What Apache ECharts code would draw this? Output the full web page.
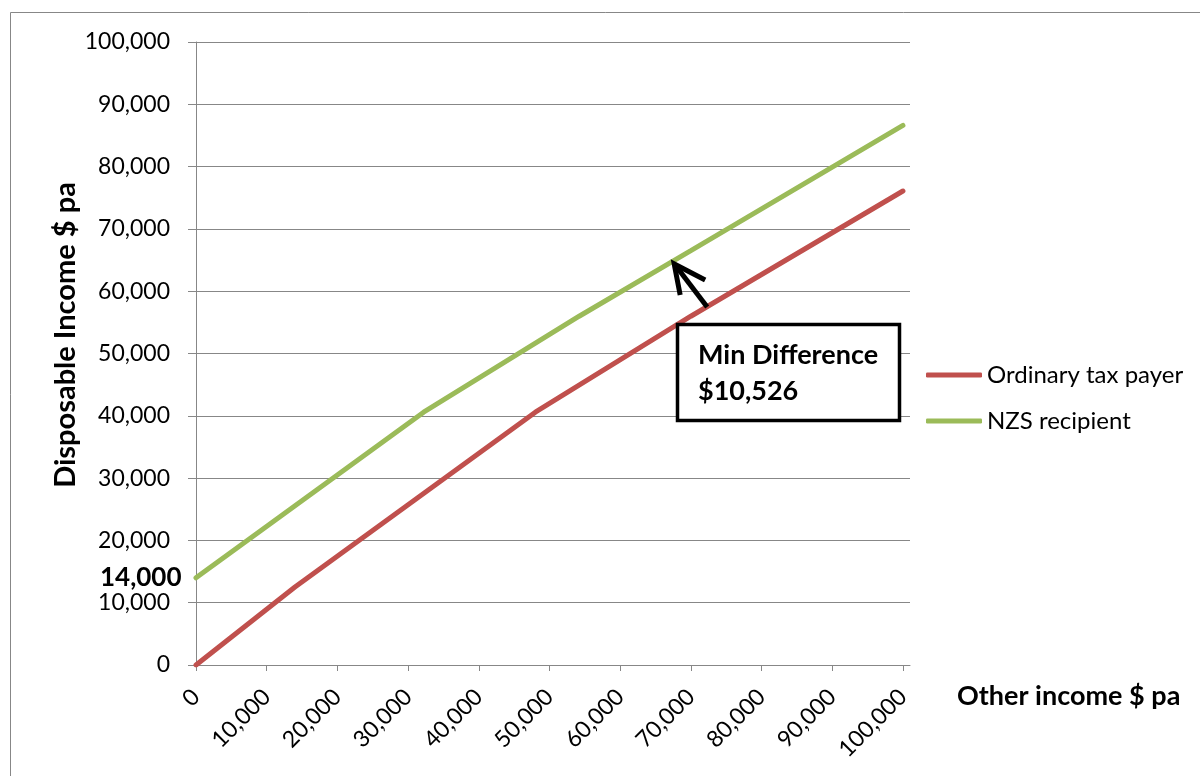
<!DOCTYPE html>
<html>
<head>
<meta charset="utf-8">
<script src="https://cdn.jsdelivr.net/npm/echarts@6/dist/echarts.min.js"></script>
<style>
  html, body { margin: 0; padding: 0; background: #fff; }
  #chart { width: 1200px; height: 776px; }
</style>
</head>
<body>
<div id="chart"></div>
<script>
// Disposable income by other income, two household types
const seriesNames = ['Ordinary tax payer', 'NZS recipient'];
// [other income, disposable income] break points of each schedule
const ordinaryTaxPayer = [[0, 0], [14000, 12530], [48000, 40580], [70000, 55980], [100000, 76080]];
const nzsRecipient = [[0, 14000], [32200, 40580], [54200, 55980], [70000, 66506], [100000, 86606]];
const xTickValues = [0, 10000, 20000, 30000, 40000, 50000, 60000, 70000, 80000, 90000, 100000];
const nzsBase = 14000;
const minDifference = 10526;
const minDiffPoint = [67500, 64700];

const FONT = 'Lato, "Open Sans", sans-serif';
const GRAY = '#878787';
const fmt = v => Number(v).toLocaleString('en-US');

const chart = echarts.init(document.getElementById('chart'), null, { renderer: 'canvas' });

chart.setOption({
  animation: false,
  backgroundColor: '#ffffff',
  textStyle: { fontFamily: FONT },
  grid: { left: 196, right: 290, top: 42, bottom: 111, containLabel: false },
  legend: {
    orient: 'vertical',
    left: 926,
    top: 362,
    padding: 0,
    itemWidth: 56,
    itemHeight: 5,
    itemGap: 20,
    icon: 'roundRect',
    data: seriesNames,
    textStyle: { fontSize: 24, color: '#000', fontFamily: FONT, lineHeight: 26 }
  },
  xAxis: {
    type: 'value',
    min: 0,
    max: 101000,
    interval: 10000,
    axisLine: { show: true, lineStyle: { color: GRAY, width: 1 } },
    axisTick: { show: true, length: 6, lineStyle: { color: GRAY }, customValues: xTickValues },
    splitLine: { show: false },
    axisLabel: {
      customValues: xTickValues,
      rotate: 45,
      margin: 28,
      fontSize: 23,
      color: '#000',
      fontFamily: FONT,
      formatter: v => fmt(v)
    }
  },
  yAxis: {
    type: 'value',
    min: 0,
    max: 100000,
    interval: 10000,
    axisLine: { show: true, lineStyle: { color: GRAY, width: 1 } },
    axisTick: { show: true, length: 8, inside: false, lineStyle: { color: GRAY } },
    splitLine: { show: true, lineStyle: { color: GRAY, width: 1 } },
    axisLabel: {
      margin: 26,
      fontSize: 23,
      color: '#000',
      fontFamily: FONT,
      formatter: v => fmt(v)
    }
  },
  series: [
    {
      name: seriesNames[0],
      type: 'line',
      data: ordinaryTaxPayer,
      symbol: 'none',
      color: '#C0504D',
      lineStyle: { width: 5, color: '#C0504D', cap: 'round' },
      z: 3
    },
    {
      name: seriesNames[1],
      type: 'line',
      data: nzsRecipient,
      symbol: 'none',
      color: '#9BBB59',
      lineStyle: { width: 5, color: '#9BBB59', cap: 'round' },
      z: 3,
      markPoint: {
        symbol: 'circle',
        symbolSize: 1,
        itemStyle: { color: 'transparent' },
        data: [{ coord: [0, nzsBase], value: nzsBase }],
        label: {
          show: true,
          position: 'left',
          distance: 14,
          formatter: p => fmt(p.value),
          fontSize: 26,
          fontWeight: 'bold',
          color: '#000',
          fontFamily: FONT
        }
      }
    }
  ]
});

// Titles, outer frame and the minimum-difference callout
const tip = chart.convertToPixel({ gridIndex: 0 }, minDiffPoint);
chart.setOption({
  graphic: [
    {
      type: 'rect',
      silent: true,
      shape: { x: 10.5, y: 12.5, width: 1300, height: 900 },
      style: { fill: 'none', stroke: GRAY, lineWidth: 1 },
      z: 0
    },
    {
      type: 'text',
      x: 66,
      y: 335,
      rotation: Math.PI / 2,
      style: {
        text: 'Disposable Income $ pa',
        font: 'bold 29px ' + FONT,
        fill: '#000',
        align: 'center',
        verticalAlign: 'middle'
      },
      z: 10
    },
    {
      type: 'text',
      x: 957,
      y: 696,
      style: {
        text: 'Other income $ pa',
        font: 'bold 27px ' + FONT,
        fill: '#000',
        align: 'left',
        verticalAlign: 'middle'
      },
      z: 10
    },
    {
      type: 'group',
      z: 20,
      children: [
        {
          type: 'rect',
          shape: { x: 677.5, y: 324.5, width: 222, height: 96 },
          style: { fill: '#fff', stroke: '#000', lineWidth: 3.5 },
          z: 20
        },
        {
          type: 'text',
          x: 698,
          y: 355,
          style: {
            text: 'Min Difference',
            font: 'bold 27px ' + FONT,
            fill: '#000',
            verticalAlign: 'middle'
          },
          z: 21
        },
        {
          type: 'text',
          x: 698,
          y: 391,
          style: {
            text: '$' + fmt(minDifference),
            font: 'bold 27px ' + FONT,
            fill: '#000',
            verticalAlign: 'middle'
          },
          z: 21
        },
        {
          type: 'line',
          shape: { x1: tip[0] + 2, y1: tip[1] + 3, x2: tip[0] + 34, y2: tip[1] + 45 },
          style: { stroke: '#000', lineWidth: 5 },
          z: 21
        },
        {
          type: 'polyline',
          shape: { points: [[tip[0] + 7, tip[1] + 33], [tip[0] + 1, tip[1] + 2], [tip[0] + 32, tip[1] + 18]] },
          style: { stroke: '#000', lineWidth: 5, fill: 'none', lineJoin: 'miter' },
          z: 21
        }
      ]
    }
  ]
});
</script>
</body>
</html>
